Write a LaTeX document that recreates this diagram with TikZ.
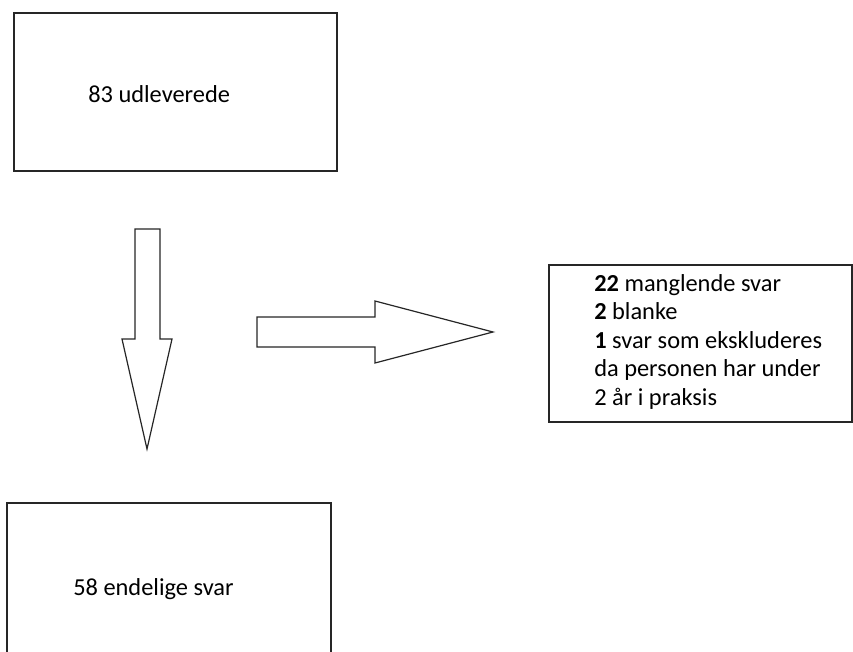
\documentclass[tikz,border=0pt]{standalone}
\usepackage{fontspec}
\setmainfont{Carlito}
\usetikzlibrary{positioning}

\begin{document}
\begin{tikzpicture}[
  x=0.75pt, y=-0.75pt,
  font=\fontsize{18.3}{21.4}\selectfont,
  box/.style={draw=black!85, line width=1.2pt, rectangle, inner sep=0pt},
  txt/.style={inner sep=0pt, align=left},
  blockarr/.style={draw=black!85, line width=0.9pt, fill=white, line join=miter}
]
\useasboundingbox (0,0) rectangle (853,652);
% ----- boxes -----
\node[box, minimum width=242.25pt, minimum height=118.5pt]  (udl) at (175.5,92)   {};
\node[box, minimum width=243pt,    minimum height=125.25pt] (end) at (169,586.5)  {};
\node[box, minimum width=227.25pt, minimum height=117.75pt] (udf) at (700.5,343.5) {};
% ----- texts -----
\node[txt, anchor=base west] (udltxt) at (88,103) {83 udleverede};
\node[txt, anchor=base west] (endtxt) at (73,595) {58 endelige svar};
\node[txt, anchor=north west] (udftxt) at (594,274)
  {\textbf{22} manglende svar\\\textbf{2} blanke\\\textbf{1} svar som ekskluderes\\da personen har under\\2 år i praksis};
% ----- block arrows -----
\coordinate (dn) at (147,229);
\draw[blockarr] (dn) ++(-12,0) -- ++(25,0) -- ++(0,110) -- ++(12,0)
  -- (147,449) -- ++(-25,-110) -- ++(13,0) -- cycle;
\coordinate (rt) at (257,317);
\draw[blockarr] (rt) -- ++(118,0) -- ++(0,-16) -- (493,332) -- (375,363)
  -- ++(0,-16) -- ++(-118,0) -- cycle;
\end{tikzpicture}
\end{document}
